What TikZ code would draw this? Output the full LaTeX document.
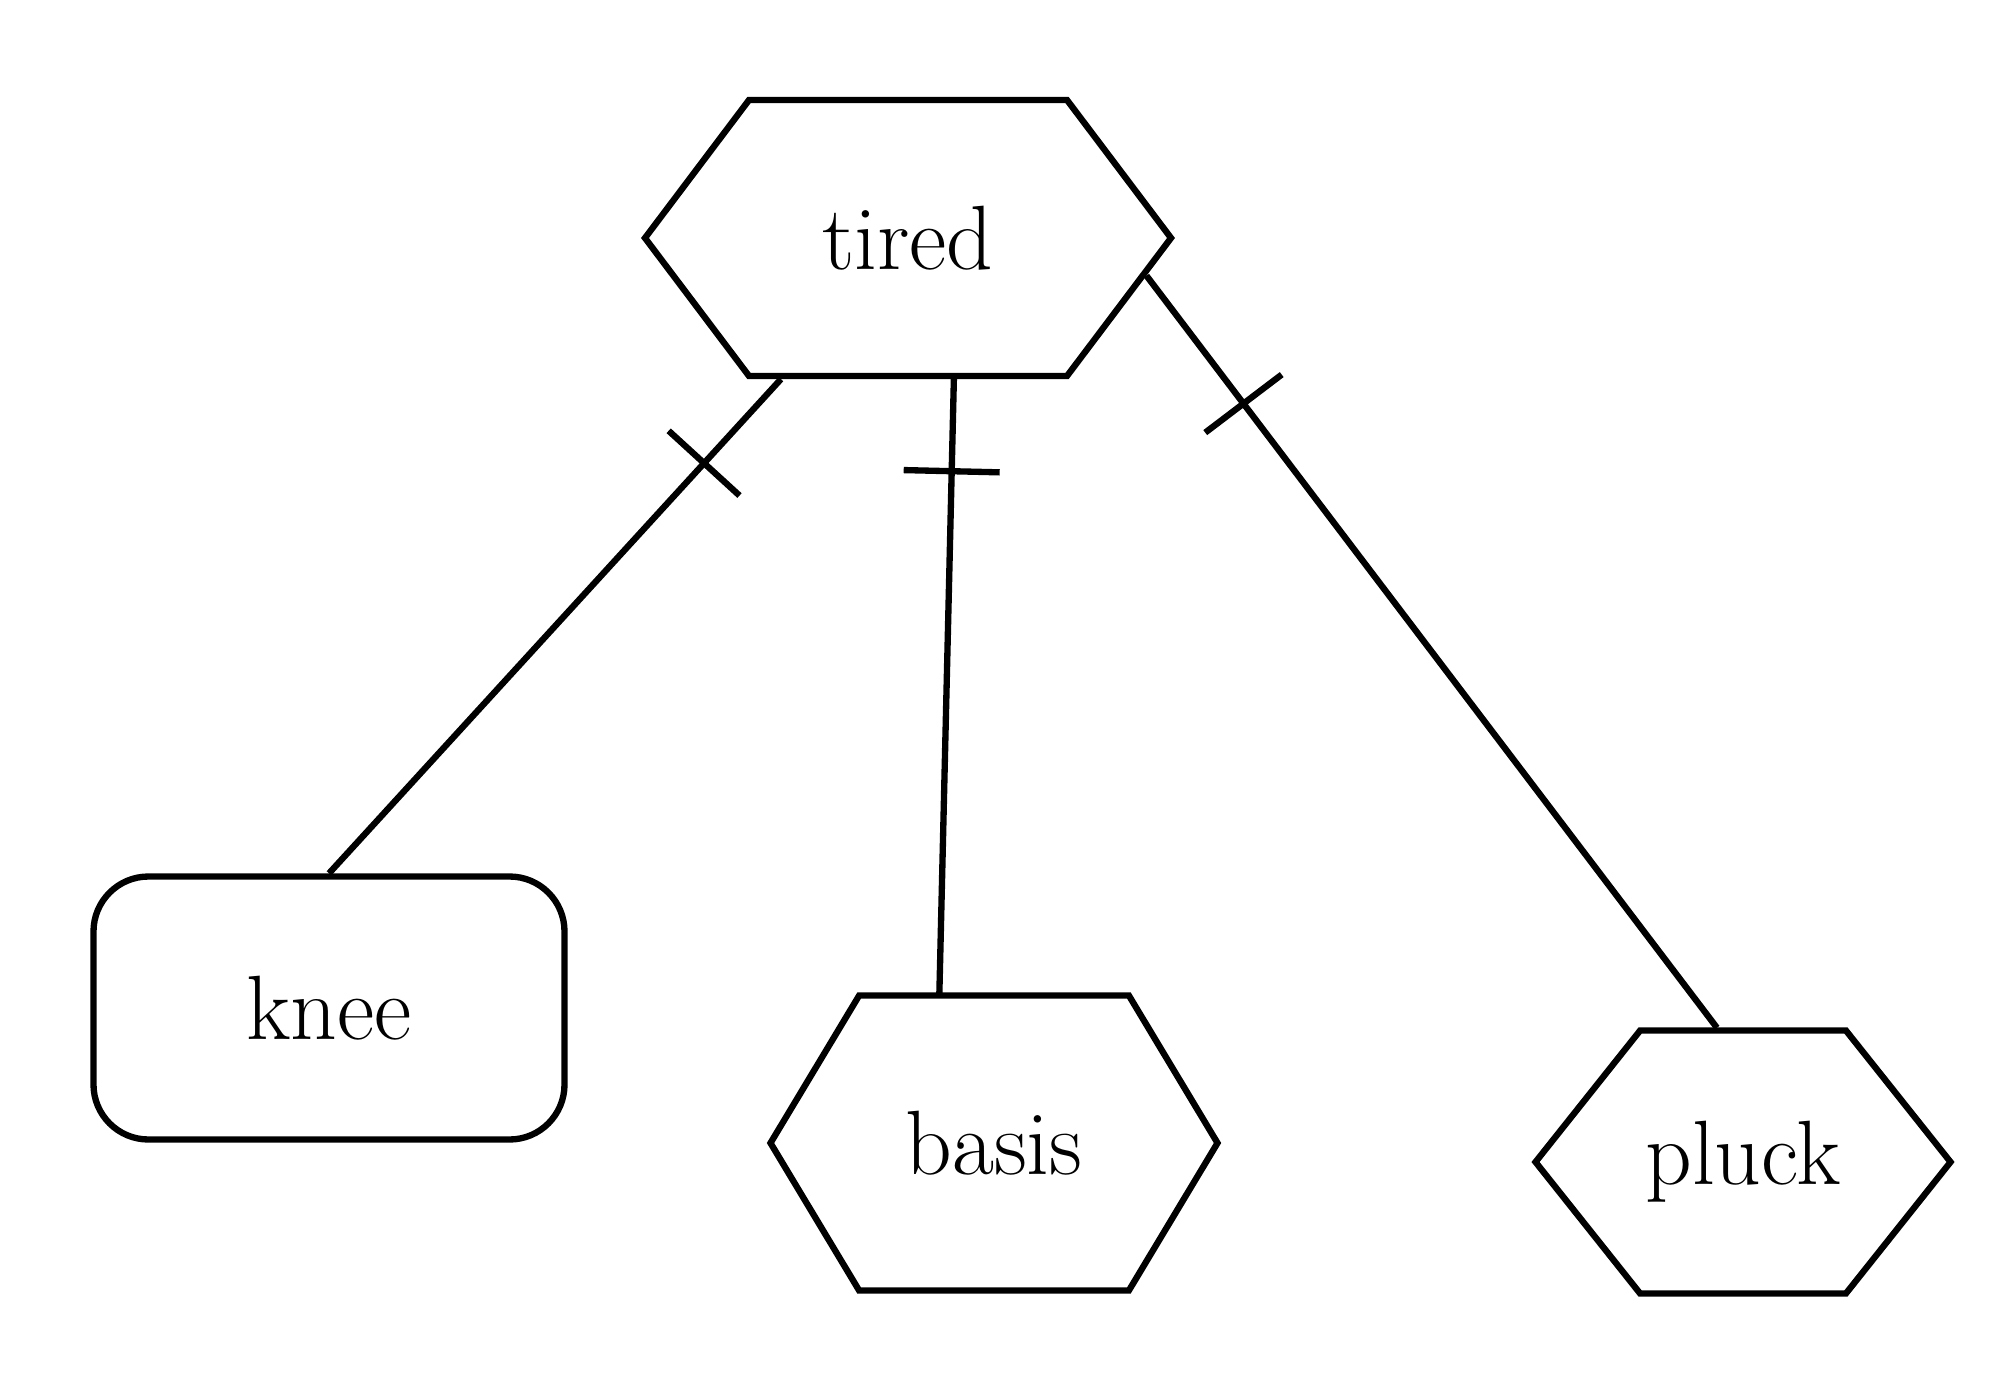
\documentclass[tikz,border=0pt]{standalone}
\usetikzlibrary{shapes.symbols,decorations.markings,positioning}

\begin{document}
\begin{tikzpicture}
	% Styles
	[
	hexa/.style={signal,signal to=west and east,draw,line width=1.8pt,inner sep=0pt,font=\fontsize{26}{30}\selectfont},
	roundbox/.style={rectangle,rounded corners=0.55cm,draw,line width=1.8pt,inner sep=0pt,font=\fontsize{26}{30}\selectfont},
	link/.style={line width=1.8pt},
	crossed/.style={postaction={decorate},decoration={markings,mark=at position #1 with {\draw[line width=1.8pt] (0,-0.48) -- (0,0.48);}}},
	]

	\useasboundingbox (0,0) rectangle (20.13,-13.92);

	% Nodes
	\node at (9.08,-2.38)	(tired)	[hexa,minimum width=5.26cm,minimum height=2.76cm,signal pointer angle=106] {tired};
	\node at (3.29,-10.08)	(knee)	[roundbox,minimum width=4.71cm,minimum height=2.63cm] {knee};
	\node at (9.94,-11.43)	(basis)	[hexa,minimum width=4.47cm,minimum height=2.95cm,signal pointer angle=118] {basis};
	\node at (17.43,-11.62)	(pluck)	[hexa,minimum width=4.15cm,minimum height=2.63cm,signal pointer angle=103] {pluck};

	% Connections
	\draw [link,crossed=0.17] (tired.228) -- (knee.north);
	\draw [link,crossed=0.15] (tired.-72) -- (basis.110);
	\draw [link,crossed=0.17] (tired.-9) -- (pluck.101);

\end{tikzpicture}
\end{document}
